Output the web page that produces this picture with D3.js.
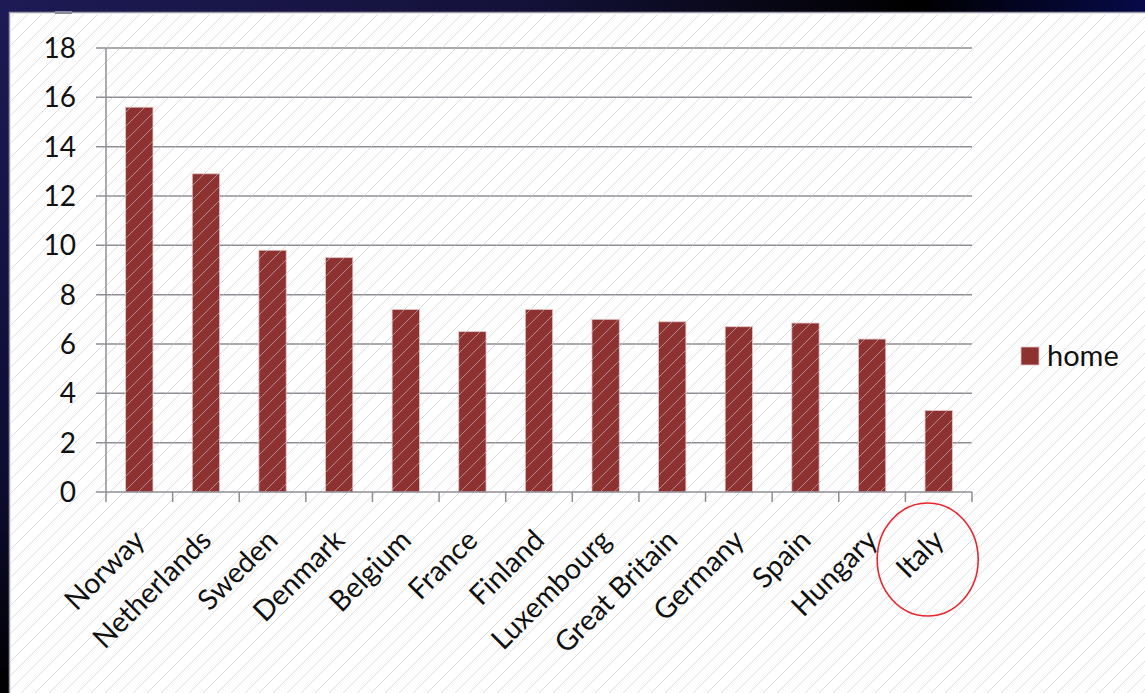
<!DOCTYPE html>
<html>
<head>
<meta charset="utf-8">
<script src="https://cdn.jsdelivr.net/npm/d3@7"></script>
<style>
  html, body { margin: 0; padding: 0; background: #000; }
  svg { display: block; }
</style>
</head>
<body>
<svg id="chart" width="1145" height="693"></svg>
<script>
// Share of homes by country
const countries = ["Norway", "Netherlands", "Sweden", "Denmark", "Belgium", "France",
  "Finland", "Luxembourg", "Great Britain", "Germany", "Spain", "Hungary", "Italy"];
const homeValues = [15.6, 12.9, 9.8, 9.5, 7.4, 6.5, 7.4, 7.0, 6.9, 6.7, 6.85, 6.2, 3.3];
const yTicks = [0, 2, 4, 6, 8, 10, 12, 14, 16, 18];
const seriesName = "home";
const highlighted = "Italy";

(function draw() {
const svg = d3.select("#chart");
const W = 1145, H = 693;
const defs = svg.append("defs");

// Dark frame gradients
const topGrad = defs.append("linearGradient").attr("id", "topGrad")
  .attr("x1", "0").attr("x2", "1").attr("y1", "0").attr("y2", "0");
topGrad.append("stop").attr("offset", "0").attr("stop-color", "#1d1a55");
topGrad.append("stop").attr("offset", "0.45").attr("stop-color", "#14123a");
topGrad.append("stop").attr("offset", "0.8").attr("stop-color", "#000000");
topGrad.append("stop").attr("offset", "1").attr("stop-color", "#070a48");
const leftGrad = defs.append("linearGradient").attr("id", "leftGrad")
  .attr("x1", "0").attr("x2", "0").attr("y1", "0").attr("y2", "1");
leftGrad.append("stop").attr("offset", "0").attr("stop-color", "#1d1a55");
leftGrad.append("stop").attr("offset", "0.7").attr("stop-color", "#0d0c30");
leftGrad.append("stop").attr("offset", "1").attr("stop-color", "#000000");

// Diagonal hatching over the panel
const hatch = defs.append("pattern").attr("id", "hatch")
  .attr("patternUnits", "userSpaceOnUse").attr("width", 14).attr("height", 14);
hatch.append("path").attr("d", "M-1,15 L15,-1 M-4,4 L4,-4 M10,18 L18,10")
  .attr("stroke", "#c6c6ce").attr("stroke-width", 0.8).attr("fill", "none");

svg.append("rect").attr("x", 0).attr("y", 0).attr("width", W).attr("height", H).attr("fill", "url(#topGrad)");
svg.append("rect").attr("x", 0).attr("y", 12).attr("width", 9).attr("height", H - 12).attr("fill", "url(#leftGrad)");

// White panel
svg.append("rect").attr("x", 9).attr("y", 12).attr("width", W - 9).attr("height", H - 12).attr("fill", "#ffffff");
svg.append("line").attr("x1", 9).attr("x2", W).attr("y1", 12.5).attr("y2", 12.5).attr("stroke", "#9a9aa6").attr("stroke-width", 1.5);
svg.append("line").attr("x1", 9.5).attr("x2", 9.5).attr("y1", 12).attr("y2", H).attr("stroke", "#9a9aa6").attr("stroke-width", 1.5);
svg.append("rect").attr("x", 55).attr("y", 11).attr("width", 17).attr("height", 3).attr("fill", "#8a8a9a");

// Plot area
const plotLeft = 106, plotRight = 972, plotTop = 48, plotBottom = 492;
const x = d3.scaleBand().domain(countries).range([plotLeft, plotRight]).paddingInner(0.59).paddingOuter(0.295);
const xEdges = d3.scaleLinear().domain([0, countries.length]).range([plotLeft, plotRight]);
const y = d3.scaleLinear().domain([0, 18]).range([plotBottom, plotTop]);

const gridColor = "#8e8e94";

// Horizontal gridlines with left tick stubs
svg.append("g").selectAll("line").data(yTicks.filter(d => d > 0)).join("line")
  .attr("x1", 96).attr("x2", plotRight)
  .attr("y1", d => y(d)).attr("y2", d => y(d))
  .attr("stroke", gridColor).attr("stroke-width", 1.5);

// Bars
svg.append("g").selectAll("rect").data(countries).join("rect")
  .attr("x", d => x(d))
  .attr("width", x.bandwidth())
  .attr("y", (d, i) => y(homeValues[i]))
  .attr("height", (d, i) => y(0) - y(homeValues[i]))
  .attr("fill", "#8d3131")
  .attr("stroke", "#e6c2c2").attr("stroke-width", 0.8);

// Hatching drawn over everything inside the panel
svg.append("rect").attr("x", 11).attr("y", 14).attr("width", W - 11).attr("height", H - 14)
  .attr("fill", "url(#hatch)").attr("opacity", 0.75).style("pointer-events", "none");

// Y axis line and baseline
svg.append("line").attr("x1", plotLeft).attr("x2", plotLeft).attr("y1", plotTop).attr("y2", plotBottom)
  .attr("stroke", gridColor).attr("stroke-width", 1.5);
svg.append("line").attr("x1", 96).attr("x2", plotRight).attr("y1", plotBottom).attr("y2", plotBottom)
  .attr("stroke", gridColor).attr("stroke-width", 1.5);

// Category boundary ticks
svg.append("g").selectAll("line").data(d3.range(countries.length + 1)).join("line")
  .attr("x1", d => xEdges(d)).attr("x2", d => xEdges(d))
  .attr("y1", plotBottom).attr("y2", plotBottom + 10)
  .attr("stroke", gridColor).attr("stroke-width", 1.5);

const font = "Lato, 'Open Sans', 'DejaVu Sans', sans-serif";

// Y tick labels
svg.append("g").selectAll("text").data(yTicks).join("text")
  .attr("x", 76).attr("y", d => y(d))
  .attr("dy", "0.36em")
  .attr("text-anchor", "end")
  .attr("font-family", font).attr("font-size", 28).attr("fill", "#111")
  .text(d => d);

// Rotated category labels
svg.append("g").selectAll("text").data(countries).join("text")
  .attr("transform", d => `translate(${x(d) + x.bandwidth() / 2 + 7},${plotBottom + 50}) rotate(-45)`)
  .attr("text-anchor", "end")
  .attr("font-family", font).attr("font-size", 28.5).attr("fill", "#111")
  .text(d => d);

// Highlight ring around one label
svg.append("ellipse")
  .attr("cx", x(highlighted) + x.bandwidth() / 2 - 11).attr("cy", 559.5)
  .attr("rx", 50.5).attr("ry", 56.5)
  .attr("fill", "none").attr("stroke", "#e8262c").attr("stroke-width", 1.6);

// Legend
svg.append("rect").attr("x", 1021).attr("y", 347).attr("width", 18).attr("height", 18)
  .attr("fill", "#8d3131").attr("stroke", "#e6c2c2").attr("stroke-width", 0.8);
svg.append("text").attr("x", 1047).attr("y", 366)
  .attr("font-family", font).attr("font-size", 29).attr("fill", "#111")
  .text(seriesName);
})();
</script>
</body>
</html>
